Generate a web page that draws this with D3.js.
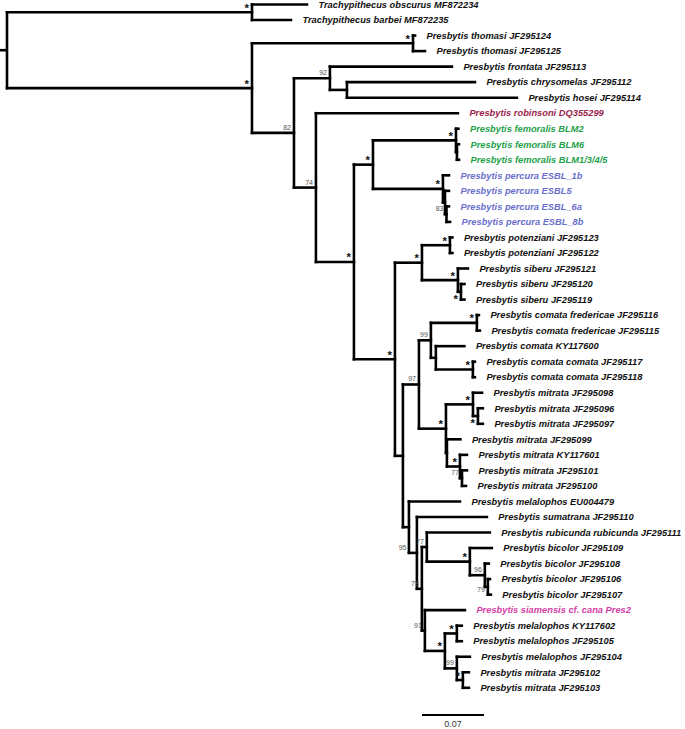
<!DOCTYPE html>
<html><head><meta charset="utf-8">
<script src="https://cdn.jsdelivr.net/npm/d3@7"></script>
<style>html,body{margin:0;padding:0;background:#fff;}svg{display:block;}</style>
</head><body>
<svg id="chart" width="685" height="729"></svg>
<script>
// [node id, parent id, branch length (substitutions/site)]
const branches = [
 ["root", null, 0],
 ["trachy","root",0.2766],
 ["obscurus","trachy",0.0621],
 ["barbei","trachy",0.0440],
 ["presb","root",0.2766],
 ["thom","presb",0.1818],
 ["t124","thom",0.0023],
 ["t125","thom",0.0135],
 ["n82","presb",0.0474],
 ["n92","n82",0.0406],
 ["frontata","n92",0.1377],
 ["ch","n92",0.0192],
 ["chrysomelas","ch",0.1445],
 ["hosei","ch",0.1919],
 ["n74","n82",0.0248],
 ["robinsoni","n74",0.1603],
 ["nA","n74",0.0429],
 ["fp","nA",0.0215],
 ["fem","fp",0.0937],
 ["blm2","fem",0.0028],
 ["femIn","fem",0.0011],
 ["blm6","femIn",0.0023],
 ["blm1","femIn",0.0023],
 ["perc","fp",0.0790],
 ["e1b","perc",0.0068],
 ["percIn","perc",0.0023],
 ["e5","percIn",0.0045],
 ["n83","percIn",0.0017],
 ["e6a","n83",0.0028],
 ["e8b","n83",0.0040],
 ["nB","nA",0.0463],
 ["ps","nB",0.0305],
 ["pot","ps",0.0316],
 ["p123","pot",0.0028],
 ["p122","pot",0.0028],
 ["sib","ps",0.0406],
 ["s121","sib",0.0113],
 ["sibIn","sib",0.0034],
 ["s120","sibIn",0.0040],
 ["s119","sibIn",0.0040],
 ["nC","nB",0.0090],
 ["n97","nC",0.0181],
 ["n99","n97",0.0135],
 ["fred","n99",0.0519],
 ["f116","fred",0.0023],
 ["f115","fred",0.0034],
 ["kc","n99",0.0056],
 ["ky600","kc",0.0322],
 ["cc","kc",0.0418],
 ["cc117","cc",0.0023],
 ["cc118","cc",0.0023],
 ["mit","n97",0.0305],
 ["g098","mit",0.0305],
 ["m098","g098",0.0102],
 ["mIn","g098",0.0056],
 ["m096","mIn",0.0056],
 ["m097","mIn",0.0056],
 ["mIn2","mit",0.0011],
 ["m099","mIn2",0.0152],
 ["ky","mIn2",0.0147],
 ["ky601","ky",0.0079],
 ["n77","ky",0.0023],
 ["m101","n77",0.0056],
 ["m100","n77",0.0045],
 ["nD","nC",0.0068],
 ["eu","nD",0.0576],
 ["n95","nD",0.0090],
 ["sum","n95",0.0790],
 ["n78","n95",0.0056],
 ["n77b","n78",0.0056],
 ["rub","n77b",0.0711],
 ["bic","n77b",0.0486],
 ["b109","bic",0.0248],
 ["n96","bic",0.0169],
 ["b108","n96",0.0045],
 ["n79","n96",0.0034],
 ["b106","n79",0.0023],
 ["b107","n79",0.0034],
 ["n91","n78",0.0034],
 ["siam","n91",0.0452],
 ["mel","n91",0.0226],
 ["kyp","mel",0.0135],
 ["ky602","kyp",0.0056],
 ["m105","kyp",0.0056],
 ["n99b","mel",0.0135],
 ["m104","n99b",0.0147],
 ["ns","n99b",0.0068],
 ["m102","ns",0.0068],
 ["m103","ns",0.0068]
];

const taxonNames = [
 ["obscurus","Trachypithecus obscurus MF872234"],
 ["barbei","Trachypithecus barbei MF872235"],
 ["t124","Presbytis thomasi JF295124"],
 ["t125","Presbytis thomasi JF295125"],
 ["frontata","Presbytis frontata JF295113"],
 ["chrysomelas","Presbytis chrysomelas JF295112"],
 ["hosei","Presbytis hosei JF295114"],
 ["robinsoni","Presbytis robinsoni DQ355299"],
 ["blm2","Presbytis femoralis BLM2"],
 ["blm6","Presbytis femoralis BLM6"],
 ["blm1","Presbytis femoralis BLM1/3/4/5"],
 ["e1b","Presbytis percura ESBL_1b"],
 ["e5","Presbytis percura ESBL5"],
 ["e6a","Presbytis percura ESBL_6a"],
 ["e8b","Presbytis percura ESBL_8b"],
 ["p123","Presbytis potenziani JF295123"],
 ["p122","Presbytis potenziani JF295122"],
 ["s121","Presbytis siberu JF295121"],
 ["s120","Presbytis siberu JF295120"],
 ["s119","Presbytis siberu JF295119"],
 ["f116","Presbytis comata fredericae JF295116"],
 ["f115","Presbytis comata fredericae JF295115"],
 ["ky600","Presbytis comata KY117600"],
 ["cc117","Presbytis comata comata JF295117"],
 ["cc118","Presbytis comata comata JF295118"],
 ["m098","Presbytis mitrata JF295098"],
 ["m096","Presbytis mitrata JF295096"],
 ["m097","Presbytis mitrata JF295097"],
 ["m099","Presbytis mitrata JF295099"],
 ["ky601","Presbytis mitrata KY117601"],
 ["m101","Presbytis mitrata JF295101"],
 ["m100","Presbytis mitrata JF295100"],
 ["eu","Presbytis melalophos EU004479"],
 ["sum","Presbytis sumatrana JF295110"],
 ["rub","Presbytis rubicunda rubicunda JF295111"],
 ["b109","Presbytis bicolor JF295109"],
 ["b108","Presbytis bicolor JF295108"],
 ["b106","Presbytis bicolor JF295106"],
 ["b107","Presbytis bicolor JF295107"],
 ["siam","Presbytis siamensis cf. cana Pres2"],
 ["ky602","Presbytis melalophos KY117602"],
 ["m105","Presbytis melalophos JF295105"],
 ["m104","Presbytis melalophos JF295104"],
 ["m102","Presbytis mitrata JF295102"],
 ["m103","Presbytis mitrata JF295103"]
];

const supportValues = [
 ["trachy","*"],["presb","*"],["thom","*"],["n92","92"],["n82","82"],["n74","74"],
 ["nA","*"],["fp","*"],["fem","*"],["perc","*"],["n83","83"],["nB","*"],["ps","*"],
 ["pot","*"],["sib","*"],["sibIn","*"],["n97","97"],["n99","99"],["fred","*"],["cc","*"],
 ["mit","*"],["g098","*"],["mIn","*"],["ky","*"],["n77","77"],["n95","95"],["n78","78"],
 ["n77b","77"],["bic","*"],["n96","96"],["n79","79"],["n91","91"],["mel","*"],["kyp","*"],
 ["n99b","99"],["ns","*"]
];

const taxonGroups = [
 ["robinsoni","robinsoni"],
 ["blm2","femoralis"],["blm6","femoralis"],["blm1","femoralis"],
 ["e1b","percura"],["e5","percura"],["e6a","percura"],["e8b","percura"],
 ["siam","siamensis"]
];
const groupKeys = ["robinsoni","femoralis","percura","siamensis"];
const groupColors = ["#9c1f4e","#1fa24b","#6a6fcc","#d43fa6"];

const scaleBarValue = 0.07;
const scaleBarLabel = "0.07";

// ---- styling / layout ----
const W = 685, H = 729;
const labelsBelow = new Set(["sibIn","mIn","n79"]);
const labelsAtParent = new Set(["n95"]);
const svg = d3.select("#chart");
svg.append("rect").attr("width",W).attr("height",H).attr("fill","#fff");

const root = d3.stratify().id(d => d[0]).parentId(d => d[1])(branches);
root.eachBefore(n => { n.dist = n.parent ? n.parent.dist + n.data[2] : 0; });
const leaves = root.leaves();
leaves.forEach((l, i) => l.li = i);
root.eachAfter(n => {
  if (n.children) n.li = (n.children[0].li + n.children[n.children.length-1].li) / 2;
});

const x = d3.scaleLinear().domain([0, 1]).range([7, 7 + 885.7]);
const y = d3.scaleLinear().domain([0, leaves.length - 1]).range([4.5, 687.8]);

const nameMap = new Map(taxonNames);
const supMap = new Map(supportValues);
const grpMap = new Map(taxonGroups);
const color = d3.scaleOrdinal().domain(groupKeys).range(groupColors).unknown("#111");

const g = svg.append("g");
const sw = 2.6;
// root stub
g.append("line").attr("x1",0).attr("x2",x(0)).attr("y1",y(root.li)).attr("y2",y(root.li))
  .attr("stroke","#000").attr("stroke-width",sw);
// horizontal branches
g.selectAll("line.h").data(root.descendants().filter(n => n.parent)).join("line")
  .attr("class","h")
  .attr("x1", n => x(n.parent.dist)).attr("x2", n => x(n.dist))
  .attr("y1", n => y(n.li)).attr("y2", n => y(n.li))
  .attr("stroke","#000").attr("stroke-width",sw).attr("stroke-linecap","square");
// vertical connectors
g.selectAll("line.v").data(root.descendants().filter(n => n.children)).join("line")
  .attr("class","v")
  .attr("x1", n => x(n.dist)).attr("x2", n => x(n.dist))
  .attr("y1", n => y(n.children[0].li)).attr("y2", n => y(n.children[n.children.length-1].li))
  .attr("stroke","#000").attr("stroke-width",sw).attr("stroke-linecap","square");

// leaf labels
g.selectAll("text.leaf").data(leaves).join("text")
  .attr("class","leaf")
  .attr("x", n => x(n.dist) + 11.5)
  .attr("y", n => y(n.li))
  .attr("dy","0.35em")
  .attr("font-family","'Liberation Sans', Arial, sans-serif")
  .attr("font-size", 9.3)
  .attr("font-weight","bold")
  .attr("font-style","italic")
  .attr("fill", n => color(grpMap.get(n.id)))
  .text(n => nameMap.get(n.id));

// support labels
const supNodes = root.descendants().filter(n => supMap.has(n.id));
g.selectAll("text.sup").data(supNodes).join("text")
  .attr("class","sup")
  .attr("x", n => labelsAtParent.has(n.id) ? x(n.parent.dist) - 2.5 : x(n.dist) - 3)
  .attr("y", n => {
    const star = supMap.get(n.id) === "*";
    const below = labelsBelow.has(n.id);
    if (star) return y(n.li) + (below ? 11 : -0.5);
    return y(n.li) + (below ? 5 : -3);
  })
  .attr("text-anchor","end")
  .attr("font-family","'Liberation Sans', Arial, sans-serif")
  .attr("font-size", n => supMap.get(n.id) === "*" ? 11.5 : 7)
  .attr("font-weight", n => supMap.get(n.id) === "*" ? "bold" : "normal")
  .attr("fill", n => supMap.get(n.id) === "*" ? "#111" : "#555")
  .text(n => supMap.get(n.id));

// scale bar
const barX0 = 422, barY = 715;
const barLen = x(scaleBarValue) - x(0);
g.append("line").attr("x1",barX0).attr("x2",barX0 + barLen).attr("y1",barY).attr("y2",barY)
  .attr("stroke","#000").attr("stroke-width",2.2);
g.append("text").attr("x", barX0 + barLen/2).attr("y", 727)
  .attr("text-anchor","middle")
  .attr("font-family","'Liberation Sans', Arial, sans-serif")
  .attr("font-size", 9).attr("fill","#333")
  .text(scaleBarLabel);
</script>
</body></html>
